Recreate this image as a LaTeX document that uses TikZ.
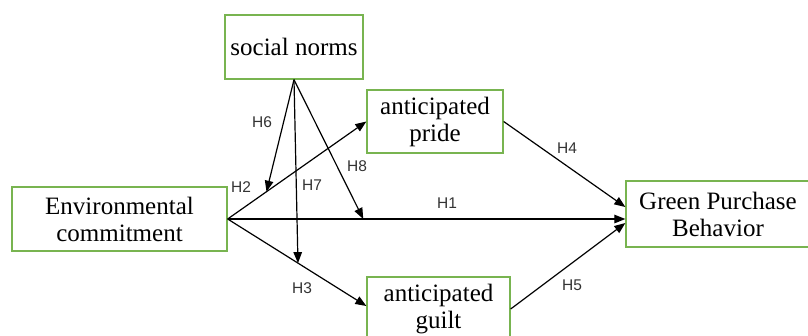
\documentclass[tikz,border=0pt]{standalone}
\usepackage{fontspec}
\setmainfont{Liberation Serif}
\newfontfamily\labelfont{Liberation Sans}
\usetikzlibrary{arrows.meta,calc}
\definecolor{boxgreen}{RGB}{120,180,80}
\begin{document}
\begin{tikzpicture}[x=1pt,y=-1pt,
 box/.style={draw=boxgreen, line width=1.3pt, align=center, inner sep=0pt, font=\fontsize{25}{27}\selectfont},
 conn/.style={line width=1.2pt, -{Triangle[length=11pt,width=8.5pt]}},
 hlab/.style={font=\labelfont\fontsize{15.5}{17}\selectfont, text=black!80}]
\path[use as bounding box] (0,0) rectangle (808,335);
\clip (0,0) rectangle (808,335);

\node[box, minimum width=138pt, minimum height=64pt] (SN) at (294,47) {social norms};
\node[box, minimum width=136pt, minimum height=63pt] (AP) at (435,121.5) {anticipated\\pride};
\node[box, minimum width=215pt, minimum height=64pt] (EC) at (119.5,219) {Environmental\\commitment};
\node[box, minimum width=184pt, minimum height=66pt] (GPB) at (718,214) {Green Purchase\\Behavior};
\node[box, minimum width=143pt, minimum height=64pt] (AG) at (438.5,309) {anticipated\\guilt};

\coordinate (g1) at ($(GPB.west)+(0,5)$);
\coordinate (g4) at ($(GPB.west)+(0,-7)$);
\coordinate (g5) at ($(GPB.west)+(0,9)$);
\coordinate (ag) at ($(AG.west)+(0,-3)$);

\draw[conn] (EC.east) -- (g1);
\draw[conn] (EC.east) -- (AP.west);
\draw[conn] (EC.east) -- (ag);
\draw[conn] (AP.east) -- (g4);
\draw[conn] (AG.east) -- (g5);

\coordinate (t6) at ($(EC.east)!0.28!(AP.west)$);
\coordinate (t7) at ($(EC.east)!0.507!(ag)$);
\coordinate (t8) at ($(EC.east)!0.341!(g1)$);
\draw[conn] (SN.south) -- (t6);
\draw[conn] (SN.south) -- (t7);
\draw[conn] (SN.south) -- (t8);

\node[hlab] (h1) at (447,203) {H1};
\node[hlab] (h2) at (241,187) {H2};
\node[hlab] (h3) at (302,288) {H3};
\node[hlab] (h4) at (567,148) {H4};
\node[hlab] (h5) at (572,285) {H5};
\node[hlab] (h6) at (262,122) {H6};
\node[hlab] (h7) at (312,185) {H7};
\node[hlab] (h8) at (357,166) {H8};
\end{tikzpicture}
\end{document}
